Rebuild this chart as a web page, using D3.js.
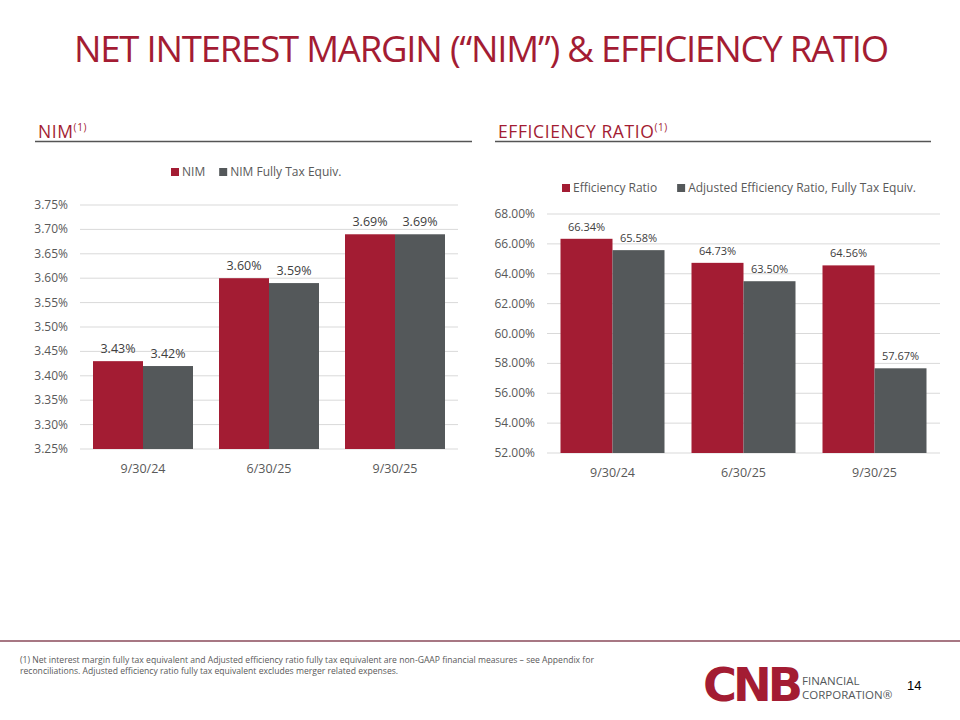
<!DOCTYPE html>
<html><head><meta charset="utf-8">
<script src="https://cdn.jsdelivr.net/npm/d3@7"></script>
<style>body{margin:0;background:#fff}svg{font-family:"Open Sans",sans-serif}</style>
</head><body><svg width="960" height="720"></svg>
<script>
const categories=["9/30/24","6/30/25","9/30/25"];
const nim=[3.43,3.60,3.69];
const nimFte=[3.42,3.59,3.69];
const nimTicks=[3.25,3.30,3.35,3.40,3.45,3.50,3.55,3.60,3.65,3.70,3.75];
const eff=[66.34,64.73,64.56];
const effAdj=[65.58,63.50,57.67];
const effTicks=[52,54,56,58,60,62,64,66,68];
const RED="#A31C33",GRAY="#54585A";
const svg=d3.select("svg");
svg.append("text").attr("x",481).attr("y",62).attr("text-anchor","middle").attr("fill",RED)
 .attr("font-size",36.5).attr("letter-spacing",-1.2).text("NET INTEREST MARGIN (“NIM”) & EFFICIENCY RATIO");
function header(x,x2,txt){
 const t=svg.append("text").attr("x",x).attr("y",138).attr("fill",RED).attr("font-size",17.5).attr("letter-spacing",0.6);
 t.append("tspan").text(txt);
 t.append("tspan").attr("font-size",10).attr("dy",-7).text("(1)");
 svg.append("line").attr("x1",x-3).attr("x2",x2).attr("y1",141.5).attr("y2",141.5).attr("stroke","#555").attr("stroke-width",1.5);
}
header(38,472,"NIM");header(498,931,"EFFICIENCY RATIO");
function chart(o){
 const x=d3.scaleBand().domain(categories).range([o.x0,o.x1]);
 const y=d3.scaleLinear().domain([o.ticks[0],o.ticks[o.ticks.length-1]]).range([o.yb,o.yt]);
 const g=svg.append("g");
 g.selectAll(".gl").data(o.ticks).join("line").attr("x1",o.x0).attr("x2",o.x1).attr("y1",d=>y(d)).attr("y2",d=>y(d)).attr("stroke","#d9d9d9");
 g.selectAll(".tl").data(o.ticks).join("text").attr("x",o.x0-12).attr("y",d=>y(d)+4).attr("text-anchor","end").attr("font-size",12).attr("fill","#595959").text(d=>d.toFixed(2)+"%");
 const bw=o.bw;
 [[o.a,RED,-1],[o.b,GRAY,0]].forEach(([vals,c,off])=>{
  g.selectAll(null).data(vals).join("rect").attr("x",(d,i)=>x(categories[i])+x.bandwidth()/2+off*bw).attr("width",bw)
   .attr("y",d=>y(d)).attr("height",d=>o.yb-y(d)).attr("fill",c);
  g.selectAll(null).data(vals).join("text").attr("x",(d,i)=>x(categories[i])+x.bandwidth()/2+off*bw+bw/2).attr("y",d=>y(d)-8)
   .attr("text-anchor","middle").attr("font-size",o.lfs).attr("fill","#404040").text(d=>d.toFixed(2)+"%");
 });
 g.selectAll(".xl").data(categories).join("text").attr("x",d=>x(d)+x.bandwidth()/2).attr("y",o.yb+24).attr("text-anchor","middle").attr("font-size",12.5).attr("fill","#595959").text(d=>d);
 let lx=o.lx;
 o.leg.forEach((t,i)=>{
  g.append("rect").attr("x",lx).attr("y",o.ly-8).attr("width",8).attr("height",8).attr("fill",i?GRAY:RED);
  const tt=g.append("text").attr("x",lx+11).attr("y",o.ly).attr("font-size",12).attr("fill","#595959").text(t);
  lx+=11+tt.node().getComputedTextLength()+o.lgap;
 });
}
chart({x0:80,x1:458,yb:449,yt:205,ticks:nimTicks,a:nim,b:nimFte,bw:50,lfs:12.5,leg:["NIM","NIM Fully Tax Equiv."],lx:171,ly:176,lgap:14});
chart({x0:547,x1:940,yb:453,yt:214,ticks:effTicks,a:eff,b:effAdj,bw:52,lfs:11,leg:["Efficiency Ratio","Adjusted Efficiency Ratio, Fully Tax Equiv."],lx:562,ly:192,lgap:20});
svg.append("line").attr("x1",0).attr("x2",960).attr("y1",641).attr("y2",641).attr("stroke","#8a4a5a").attr("stroke-width",1.5);
svg.append("text").attr("x",20).attr("y",663).attr("font-size",8.6).attr("fill","#595959").text("(1) Net interest margin fully tax equivalent and Adjusted efficiency ratio fully tax equivalent are non-GAAP financial measures – see Appendix for");
svg.append("text").attr("x",20).attr("y",674).attr("font-size",8.6).attr("fill","#595959").text("reconciliations. Adjusted efficiency ratio fully tax equivalent excludes merger related expenses.");
svg.append("text").attr("x",703).attr("y",701).attr("font-size",46).attr("font-weight",900).attr("fill",RED).attr("letter-spacing",-4).attr("font-family","DejaVu Sans").attr("textLength",96).attr("lengthAdjust","spacingAndGlyphs").text("CNB");
svg.append("text").attr("x",802).attr("y",685).attr("font-size",11.5).attr("fill","#54585A").text("FINANCIAL");
svg.append("text").attr("x",802).attr("y",699).attr("font-size",11.5).attr("fill","#54585A").text("CORPORATION®");
svg.append("text").attr("x",907).attr("y",690).attr("font-size",13).attr("fill","#000").attr("font-family","Liberation Sans").text("14");
</script></body></html>
